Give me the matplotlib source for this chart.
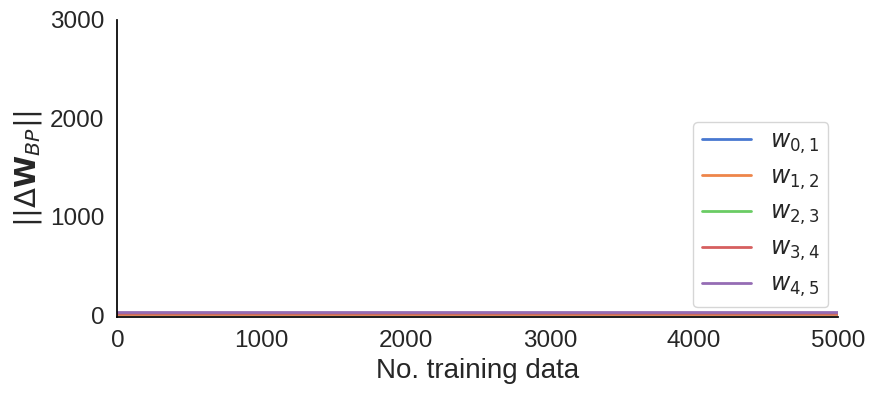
import numpy as np
import seaborn as sns
from matplotlib import pyplot as plt

sns.set_theme(style="white", palette="muted")
plt.rcParams['font.family'] = ['Liberation Sans', 'DejaVu Sans']

# number of training samples seen
n_data = [0, 1000, 2000, 3000, 4000, 5000]

# norm of the BP weight update per layer pair
w01 = [12, 12, 12, 12, 12, 12]
w12 = [16, 16, 16, 16, 16, 16]
w23 = [20, 20, 20, 20, 20, 20]
w34 = [24, 24, 24, 24, 24, 24]
w45 = [30, 30, 30, 30, 30, 30]

series = [w01, w12, w23, w34, w45]
labels = [r'$w_{0,1}$', r'$w_{1,2}$', r'$w_{2,3}$', r'$w_{3,4}$', r'$w_{4,5}$']

fig, ax = plt.subplots(figsize=(8.76, 3.96), dpi=100)
for vals, lab in zip(series, labels):
    ax.plot(n_data, vals, lw=2, label=lab)

ax.set_xlim(0, 5000)
ax.set_ylim(-15, 3000)
ax.set_xticks([0, 1000, 2000, 3000, 4000, 5000])
ax.set_yticks([0, 1000, 2000, 3000])
ax.tick_params(labelsize=17.5)
ax.set_xlabel('No. training data', fontsize=20)
ax.set_ylabel(r'$||\Delta \mathbf{W}_{BP}||$', fontsize=21)
sns.despine(ax=ax)
ax.spines['left'].set_color('black')
ax.spines['bottom'].set_color('black')
ax.legend(loc='lower right', fontsize=17, handlelength=2.1, borderpad=0.35,
          labelspacing=0.45, borderaxespad=0, bbox_to_anchor=(0.986, 0.032))

plt.subplots_adjust(left=0.134, right=0.957, top=0.95, bottom=0.2)
plt.savefig('out.png', dpi=100)
